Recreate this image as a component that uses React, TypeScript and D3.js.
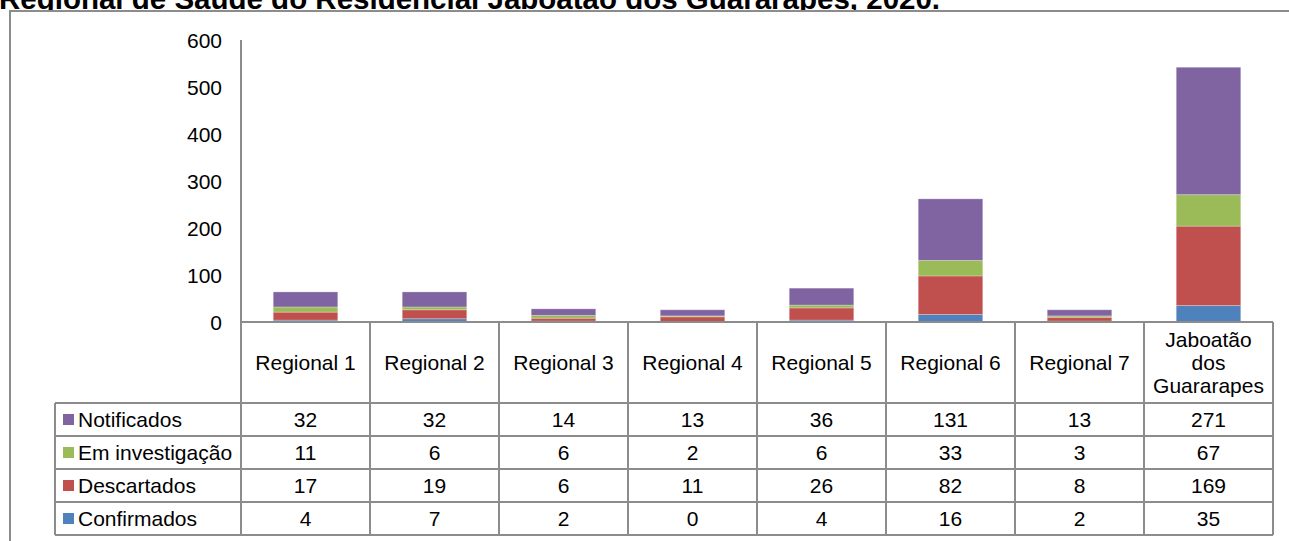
import React from "react";
import * as d3 from "d3";

const title = "Regional de Saúde do Residencial Jaboatão dos Guararapes, 2020.";
const categories = [
  "Regional 1",
  "Regional 2",
  "Regional 3",
  "Regional 4",
  "Regional 5",
  "Regional 6",
  "Regional 7",
  "Jaboatão dos Guararapes",
];
const confirmados = [4, 7, 2, 0, 4, 16, 2, 35];
const descartados = [17, 19, 6, 11, 26, 82, 8, 169];
const emInvestigacao = [11, 6, 6, 2, 6, 33, 3, 67];
const notificados = [32, 32, 14, 13, 36, 131, 13, 271];
const yTicks = [0, 100, 200, 300, 400, 500, 600];

// stacking order bottom -> top
const seriesKeys = ["Confirmados", "Descartados", "Em investigação", "Notificados"];
const seriesColors = ["#4F81BD", "#C0504D", "#9BBB59", "#8064A2"];
const seriesValues = [confirmados, descartados, emInvestigacao, notificados];

const W = 1289;
const H = 541;
const FONT = "'Liberation Sans', Arial, sans-serif";
const LINE = "#8c8c8c";
const FS = 21;

export default function App() {
  const rows = categories.map((c, i) => {
    const r: any = { cat: c };
    seriesKeys.forEach((k, j) => (r[k] = seriesValues[j][i]));
    return r;
  });
  const stacked = d3.stack().keys(seriesKeys)(rows);

  const x = d3.scaleBand().domain(categories).range([241, 1273]).padding(0);
  const y = d3.scaleLinear().domain([0, 600]).range([322, 40]);
  const bw = x.bandwidth();
  const barW = bw * 0.5;

  // table geometry
  const headerTop = y(0);
  const rowTop = 403;
  const rowH = 33;
  const legendLeft = 55;
  const tableRows = [...seriesKeys].reverse(); // Notificados first
  const tableBottom = rowTop + rowH * tableRows.length;

  const wrap = (s: string) => (s.length > 12 ? s.split(" ") : [s]);

  return (
    <svg
      width={W}
      height={H}
      style={{ position: "absolute", left: 0, top: 0, background: "#fff" }}
      fontFamily={FONT}
    >
      <text x={-1} y={9} fontSize={29.5} fontWeight="bold" fill="#000">
        {title}
      </text>
      {/* chart frame covers the title's descenders */}
      <rect x={10} y={11} width={W} height={H} fill="#fff" stroke={LINE} strokeWidth={2} />

      {/* y axis labels */}
      {yTicks.map((t) => (
        <text key={t} x={222} y={y(t)} dy="0.36em" textAnchor="end" fontSize={FS}>
          {t}
        </text>
      ))}

      {/* bars */}
      {stacked.map((s, j) => (
        <g key={s.key} fill={seriesColors[j]}>
          {s.map((d, i) => (
            <rect
              key={i}
              x={(x(categories[i]) as number) + (bw - barW) / 2}
              y={y(d[1])}
              width={barW}
              height={Math.max(0, y(d[0]) - y(d[1]))}
              stroke="#ffffff"
              strokeOpacity={0.25}
              strokeWidth={1}
            />
          ))}
        </g>
      ))}

      {/* axis + table lines */}
      <g stroke={LINE} strokeWidth={2}>
        <line x1={241} x2={241} y1={40} y2={tableBottom} />
        <line x1={241} x2={1273} y1={headerTop} y2={headerTop} />
        {categories.map((c) => (
          <line
            key={c}
            x1={(x(c) as number) + bw}
            x2={(x(c) as number) + bw}
            y1={headerTop}
            y2={tableBottom}
          />
        ))}
        <line x1={legendLeft} x2={legendLeft} y1={rowTop} y2={tableBottom} />
        {d3.range(tableRows.length + 1).map((i) => (
          <line
            key={i}
            x1={legendLeft}
            x2={1273}
            y1={rowTop + i * rowH}
            y2={rowTop + i * rowH}
          />
        ))}
      </g>

      {/* category header */}
      {categories.map((c) => {
        const lines = wrap(c);
        const cy = (headerTop + rowTop) / 2;
        return (
          <text key={c} textAnchor="middle" fontSize={FS}>
            {lines.map((l, k) => (
              <tspan
                key={k}
                x={(x(c) as number) + bw / 2}
                y={cy + (k - (lines.length - 1) / 2) * 23}
                dy="0.36em"
              >
                {l}
              </tspan>
            ))}
          </text>
        );
      })}

      {/* table rows */}
      {tableRows.map((k, r) => {
        const j = seriesKeys.indexOf(k);
        const cy = rowTop + r * rowH + rowH / 2;
        return (
          <g key={k}>
            <rect x={63} y={cy - 5.5} width={11} height={11} fill={seriesColors[j]} />
            <text x={78} y={cy} dy="0.36em" fontSize={FS}>
              {k}
            </text>
            {categories.map((c, i) => (
              <text
                key={c}
                x={(x(c) as number) + bw / 2}
                y={cy}
                dy="0.36em"
                textAnchor="middle"
                fontSize={FS}
              >
                {seriesValues[j][i]}
              </text>
            ))}
          </g>
        );
      })}
    </svg>
  );
}
